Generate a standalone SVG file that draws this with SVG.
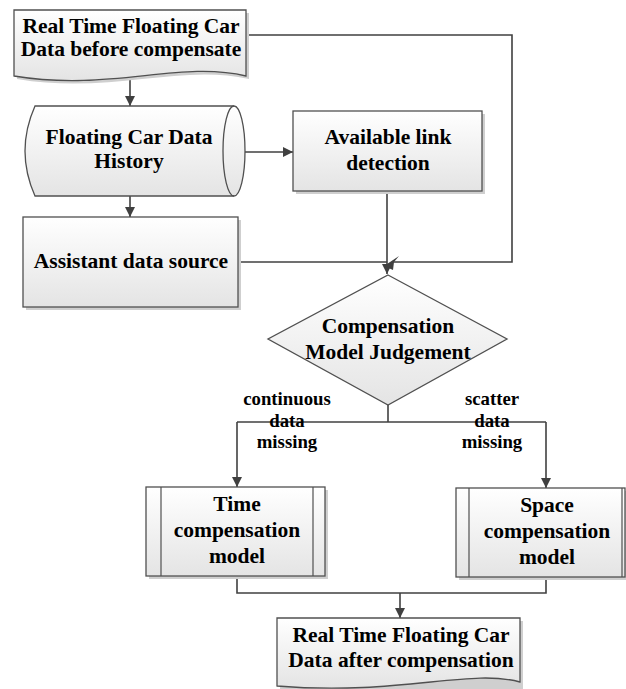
<svg xmlns="http://www.w3.org/2000/svg" width="626" height="689" viewBox="0 0 626 689">
<defs>
<linearGradient id="g" x1="0" y1="0" x2="0" y2="1">
<stop offset="0" stop-color="#ffffff"/>
<stop offset="1" stop-color="#e4e4e4"/>
</linearGradient>
<marker id="arr" viewBox="0 0 10 10" refX="10" refY="5" markerWidth="10" markerHeight="10" markerUnits="userSpaceOnUse" orient="auto">
<path d="M0,0 L10,5 L0,10 Z" fill="#404040"/>
</marker>
<style>
.s{fill:url(#g);stroke:#505050;stroke-width:1.3}
.sh{fill:#cfcfcf;stroke:none}
.t{font-family:"Liberation Serif","Times New Roman",serif;font-weight:bold;font-size:21.5px;fill:#000;text-anchor:middle}
.l{font-family:"Liberation Serif","Times New Roman",serif;font-weight:bold;font-size:18.8px;fill:#000;text-anchor:middle}
.c{fill:none;stroke:#404040;stroke-width:1.6}
</style>
</defs>
<rect width="626" height="689" fill="#fff"/>

<g id="connectors">
<path class="c" d="M130,80 V106" marker-end="url(#arr)"/>
<path class="c" d="M130,196 V217" marker-end="url(#arr)"/>
<path class="c" d="M234,152 H293" marker-end="url(#arr)"/>
<path class="c" d="M387,191 V274" marker-end="url(#arr)"/>
<path class="c" d="M238,262 H387"/>
<path class="c" d="M246,35 H512 V262 H392"/>
<path d="M384,266 L399,256 L394,262 L393,270 Z" fill="#404040"/>
<path class="c" d="M388,405 V422"/>
<path class="c" d="M237,422 H546"/>
<path class="c" d="M237,422 V487" marker-end="url(#arr)"/>
<path class="c" d="M546,422 V488" marker-end="url(#arr)"/>
<path class="c" d="M237,576 V593 H546 V577"/>
<path class="c" d="M400,593 V618" marker-end="url(#arr)"/>
</g>

<g id="doc-before">
<path class="sh" d="M17,13 H249 V79 C180,63 110,95 17,79 Z"/>
<path class="s" d="M14,10 H246 V76 C180,60 110,92 14,76 Z"/>
<text class="t" x="131" y="33">Real Time Floating Car</text>
<text class="t" x="131" y="56">Data before compensate</text>
</g>

<g id="history">
<path class="s" d="M35,106 H234 A11,45 0 0 1 234,196 H35 Q15,151 35,106 Z"/>
<path fill="none" stroke="#505050" stroke-width="1.3" d="M234,106 A11,45 0 0 0 234,196"/>
<text class="t" x="129" y="144">Floating Car Data</text>
<text class="t" x="129" y="168">History</text>
</g>

<g id="link-detection">
<rect class="sh" x="296" y="114" width="189" height="80"/>
<rect class="s" x="293" y="111" width="189" height="80"/>
<text class="t" x="388" y="144">Available link</text>
<text class="t" x="388" y="170">detection</text>
</g>

<g id="assistant">
<rect class="sh" x="26" y="220" width="215" height="90"/>
<rect class="s" x="23" y="217" width="215" height="90"/>
<text class="t" x="131" y="268">Assistant data source</text>
</g>

<g id="judgement">
<path class="s" d="M388,275 L507,339 L388,405 L268,339 Z"/>
<text class="t" x="388" y="333">Compensation</text>
<text class="t" x="388" y="359">Model Judgement</text>
</g>

<g id="label-continuous">
<text class="l" x="287" y="405">continuous</text>
<text class="l" x="287" y="427">data</text>
<text class="l" x="287" y="448">missing</text>
</g>

<g id="label-scatter">
<text class="l" x="492" y="405">scatter</text>
<text class="l" x="492" y="427">data</text>
<text class="l" x="492" y="448">missing</text>
</g>

<g id="time-model">
<rect class="sh" x="149" y="490" width="179" height="89"/>
<rect class="s" x="146" y="487" width="179" height="89"/>
<path fill="none" stroke="#505050" stroke-width="1.2" d="M161,487 V576 M313,487 V576"/>
<text class="t" x="237" y="511">Time</text>
<text class="t" x="237" y="537">compensation</text>
<text class="t" x="237" y="563">model</text>
</g>

<g id="space-model">
<rect class="sh" x="459" y="491" width="170" height="89"/>
<rect class="s" x="456" y="488" width="169" height="89"/>
<path fill="none" stroke="#505050" stroke-width="1.2" d="M469,488 V577 M622,488 V577"/>
<text class="t" x="547" y="512">Space</text>
<text class="t" x="547" y="538">compensation</text>
<text class="t" x="547" y="564">model</text>
</g>

<g id="doc-after">
<path class="sh" d="M280,621 H523 V689 H280 Z"/>
<path class="s" d="M277,618 H520 V682 C470,668 400,696 277,686 Z"/>
<text class="t" x="401" y="642">Real Time Floating Car</text>
<text class="t" x="401" y="667">Data after compensation</text>
</g>
</svg>
